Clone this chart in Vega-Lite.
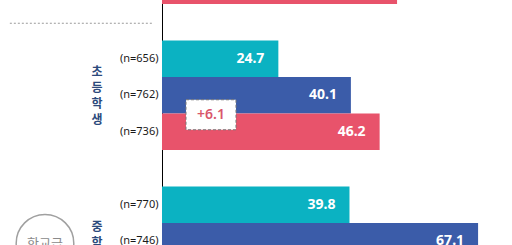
{
  "$schema": "https://vega.github.io/schema/vega-lite/v6.json",
  "width": 350,
  "height": 245,
  "autosize": {"type": "none"},
  "padding": {"left": 162, "right": 0, "top": 0, "bottom": 0},
  "config": {"view": {"stroke": null}, "font": "Noto Sans"},
  "datasets": {
    "bars": [
      {"row": "top", "series": "pink", "value": 49.9},
      {"row": "(n=656)", "series": "cyan", "value": 24.7},
      {"row": "(n=762)", "series": "blue", "value": 40.1},
      {"row": "(n=736)", "series": "pink", "value": 46.2},
      {"row": "(n=770)", "series": "cyan", "value": 39.8},
      {"row": "(n=746)", "series": "blue", "value": 67.1}
    ],
    "groups": [
      {"row": "(n=762)", "label": "초\n등\n학\n생", "lines": 4},
      {"row": "(n=746)", "label": "중\n학\n생", "lines": 3}
    ],
    "diffs": [
      {"row": "(n=736)", "label": "+6.1"},
      {"row": "bottom", "label": ""}
    ],
    "section": [
      {"row": "(n=746)", "label": "학교급"}
    ],
    "sep": [
      {"row": "gap1"}
    ]
  },
  "encoding": {
    "y": {
      "field": "row",
      "type": "nominal",
      "scale": {
        "type": "band",
        "domain": ["top", "gap1", "(n=656)", "(n=762)", "(n=736)", "gap2", "(n=770)", "(n=746)", "bottom"],
        "range": [-32.5, 296],
        "paddingInner": 0,
        "paddingOuter": 0
      },
      "axis": {
        "title": null,
        "ticks": false,
        "grid": false,
        "domain": true,
        "domainColor": "#000000",
        "domainWidth": 1,
        "labelPadding": 4,
        "labelFontSize": 11,
        "labelFont": "Noto Sans",
        "labelColor": "#1A1A1A",
        "labelExpr": "indexof(datum.label, '(n=') === 0 ? datum.label : ''"
      }
    }
  },
  "layer": [
    {
      "data": {"name": "bars"},
      "mark": {"type": "bar"},
      "encoding": {
        "x": {"field": "value", "type": "quantitative", "scale": {"domain": [0, 74.3], "nice": false, "zero": true}, "axis": null},
        "color": {
          "field": "series",
          "type": "nominal",
          "scale": {"domain": ["cyan", "blue", "pink"], "range": ["#0BB2C2", "#3B5CA9", "#E8536B"]},
          "legend": null
        }
      }
    },
    {
      "data": {"name": "bars"},
      "mark": {"type": "text", "align": "right", "baseline": "middle", "dx": -14, "fontSize": 14, "fontWeight": "bold", "color": "#FFFFFF", "font": "Noto Sans"},
      "encoding": {
        "x": {"field": "value", "type": "quantitative"},
        "text": {"field": "value", "type": "quantitative", "format": ".1f"}
      }
    },
    {
      "data": {"name": "sep"},
      "mark": {"type": "rule", "color": "#9A9A9A", "strokeDash": [2, 2], "strokeWidth": 1, "yOffset": 1},
      "encoding": {
        "x": {"datum": -32.3},
        "x2": {"datum": -1.9}
      }
    },
    {
      "data": {"name": "diffs"},
      "mark": {"type": "point", "shape": "M-1,-0.6H1V0.6H-1Z", "size": 2500, "filled": false, "fill": "#FFFFFF", "fillOpacity": 1, "stroke": "#777777", "strokeWidth": 1, "strokeDash": [3, 2], "opacity": 1, "yOffset": -17},
      "encoding": {
        "x": {"datum": 10.4}
      }
    },
    {
      "data": {"name": "diffs"},
      "mark": {"type": "text", "align": "center", "baseline": "middle", "fontSize": 14, "fontWeight": 600, "color": "#D9566B", "yOffset": -17, "font": "Noto Sans"},
      "encoding": {
        "x": {"datum": 10.4},
        "text": {"field": "label", "type": "nominal"}
      }
    },
    {
      "data": {"name": "groups"},
      "transform": [{"filter": "datum.lines == 4"}],
      "mark": {"type": "text", "align": "center", "baseline": "middle", "lineBreak": "\n", "lineHeight": 16, "fontSize": 12, "fontWeight": "bold", "color": "#2C4A7C", "font": "Noto Sans CJK KR", "dy": -23},
      "encoding": {
        "x": {"datum": -13.8},
        "text": {"field": "label", "type": "nominal"}
      }
    },
    {
      "data": {"name": "groups"},
      "transform": [{"filter": "datum.lines == 3"}],
      "mark": {"type": "text", "align": "center", "baseline": "middle", "lineBreak": "\n", "lineHeight": 16, "fontSize": 12, "fontWeight": "bold", "color": "#2C4A7C", "font": "Noto Sans CJK KR", "dy": -14},
      "encoding": {
        "x": {"datum": -13.8},
        "text": {"field": "label", "type": "nominal"}
      }
    },
    {
      "data": {"name": "section"},
      "mark": {"type": "point", "shape": "circle", "size": 3318, "filled": false, "fill": "#FFFFFF", "fillOpacity": 1, "stroke": "#A0A0A0", "strokeWidth": 1.5, "opacity": 1, "yOffset": 2},
      "encoding": {
        "x": {"datum": -24.84}
      }
    },
    {
      "data": {"name": "section"},
      "mark": {"type": "text", "align": "center", "baseline": "middle", "fontSize": 13, "color": "#8A8A8A", "yOffset": 3, "font": "Noto Sans CJK KR"},
      "encoding": {
        "x": {"datum": -24.84},
        "text": {"field": "label", "type": "nominal"}
      }
    }
  ]
}
